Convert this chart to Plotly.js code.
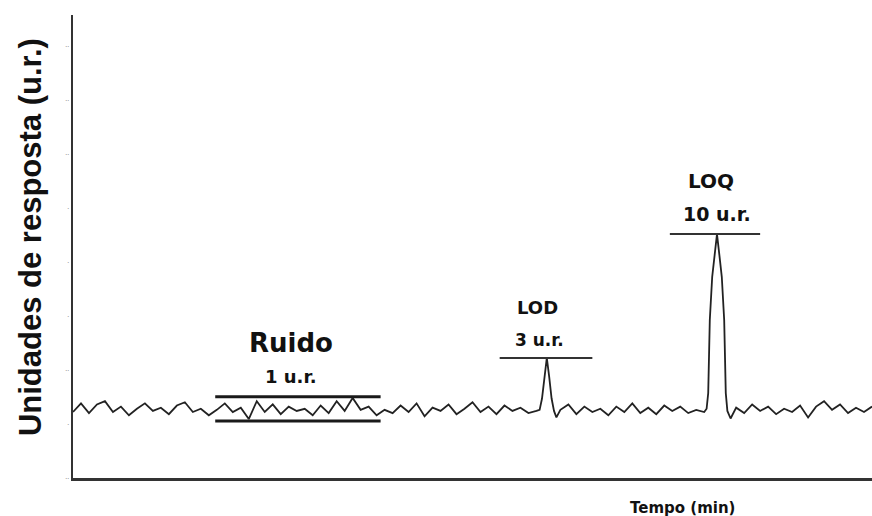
<!DOCTYPE html>
<html><head><meta charset="utf-8">
<script src="https://cdn.plot.ly/plotly-3.0.1.min.js"></script>
<style>html,body{margin:0;padding:0;background:#fff}#c{width:872px;height:516px}</style>
</head><body><div id="c"></div>
<script>
// Signal (time in arbitrary units, response in u.r.)
const tempo = [0,1,2,3,4,5,6,7,8,9,10,11,12,13,14,15,16,17,18,19,20,21,22,23,24,25,26,27,28,29,30,31,32,33,34,35,36,37,38,39,40,41,42,43,44,45,46,47,48,49,50,51,52,53,54,55,56,57,58,
  58.4,58.7,59.0,59.3,59.6,59.9,60.2,60.5,
  61,62,63,64,65,66,67,68,69,70,71,72,73,74,75,76,77,78,79,
  79.3,79.5,79.7,80.0,80.3,80.6,80.9,81.2,81.5,81.7,81.9,82.3,
  83,84,85,86,87,88,89,90,91,92,93,94,95,96,97,98,99,100];
const resposta = [1.20,1.36,1.18,1.34,1.40,1.20,1.30,1.14,1.26,1.36,1.22,1.28,1.16,1.32,1.38,1.20,1.26,1.14,1.24,1.36,1.20,1.28,1.07,1.40,1.20,1.34,1.16,1.30,1.22,1.26,1.14,1.32,1.18,1.40,1.22,1.46,1.24,1.30,1.14,1.24,1.18,1.32,1.20,1.36,1.12,1.28,1.22,1.34,1.16,1.26,1.38,1.20,1.30,1.16,1.32,1.22,1.28,1.18,1.22,
  1.24,1.45,1.85,2.20,1.85,1.45,1.22,1.10,
  1.24,1.34,1.16,1.30,1.20,1.26,1.14,1.30,1.20,1.36,1.18,1.28,1.16,1.32,1.22,1.30,1.18,1.24,1.20,
  1.26,1.55,2.90,3.70,4.10,4.49,4.10,3.70,2.90,1.55,1.22,1.08,
  1.28,1.18,1.34,1.22,1.30,1.16,1.26,1.20,1.32,1.10,1.30,1.40,1.24,1.34,1.18,1.28,1.20,1.30];

// Reference levels
const ruidoX = [17.8, 38.5];
const ruidoSup = 1.48, ruidoInf = 1.035;
const lodX = [53.4, 65.0], lodY = 2.20;
const loqX = [74.7, 86.0], loqY = 4.49;

const yTicks = [0,1,2,3,4,5,6,7,8];
const yTickText = ['..','.','..','.','.','.','..','..','..'];

const black = '#1a1a1a';
const traces = [
  {x: tempo, y: resposta, mode: 'lines', line: {color: '#222', width: 1.8}, hoverinfo: 'skip'},
  {x: ruidoX, y: [ruidoSup, ruidoSup], mode: 'lines', line: {color: black, width: 3}},
  {x: ruidoX, y: [ruidoInf, ruidoInf], mode: 'lines', line: {color: black, width: 3}},
  {x: lodX, y: [lodY, lodY], mode: 'lines', line: {color: '#333', width: 2}},
  {x: loqX, y: [loqY, loqY], mode: 'lines', line: {color: '#333', width: 2}}
];

const dv = {family: 'DejaVu Sans, Verdana, sans-serif', color: '#111'};
const lib = {family: 'Liberation Sans, Arial, sans-serif', color: '#111'};
const f = (base, size) => Object.assign({size: size}, base);
const layout = {
  width: 872, height: 516,
  margin: {l: 73, r: 0, t: 15, b: 38},
  paper_bgcolor: '#fff', plot_bgcolor: '#fff',
  showlegend: false,
  xaxis: {range: [0, 100], showline: true, linecolor: '#333', linewidth: 2.5,
          showgrid: false, zeroline: false, showticklabels: false, ticks: ''},
  yaxis: {range: [-0.02, 8.54], showline: true, linecolor: '#333', linewidth: 2.5,
          showgrid: false, zeroline: false, tickvals: yTicks, ticktext: yTickText,
          tickfont: {size: 7, color: '#666', family: 'Liberation Sans'}, ticks: ''},
  annotations: [
    {text: '<b>Unidades de resposta (u.r.)</b>', xref: 'paper', yref: 'paper',
     x: -0.054, y: 0.52, textangle: -90, showarrow: false,
     font: f(lib, 31), xanchor: 'center', yanchor: 'middle'},
    {text: '<b>Tempo (min)</b>', xref: 'paper', yref: 'paper', x: 0.763, y: -0.065,
     showarrow: false, font: f(dv, 15), xanchor: 'center', yanchor: 'middle'},
    {text: '<b>Ruido</b>', xref: 'x', yref: 'y', x: 27.3, y: 2.48, showarrow: false, font: f(dv, 26)},
    {text: '<b>1 u.r.</b>', xref: 'x', yref: 'y', x: 27.3, y: 1.85, showarrow: false, font: f(dv, 18)},
    {text: '<b>LOD</b>', xref: 'x', yref: 'y', x: 58.1, y: 3.14, showarrow: false, font: f(dv, 18)},
    {text: '<b>3 u.r.</b>', xref: 'x', yref: 'y', x: 58.4, y: 2.53, showarrow: false, font: f(dv, 17)},
    {text: '<b>LOQ</b>', xref: 'x', yref: 'y', x: 79.8, y: 5.47, showarrow: false, font: f(dv, 20)},
    {text: '<b>10 u.r.</b>', xref: 'x', yref: 'y', x: 80.6, y: 4.86, showarrow: false, font: f(dv, 19)}
  ]
};
Plotly.newPlot('c', traces, layout, {staticPlot: true, displayModeBar: false});
</script></body></html>
